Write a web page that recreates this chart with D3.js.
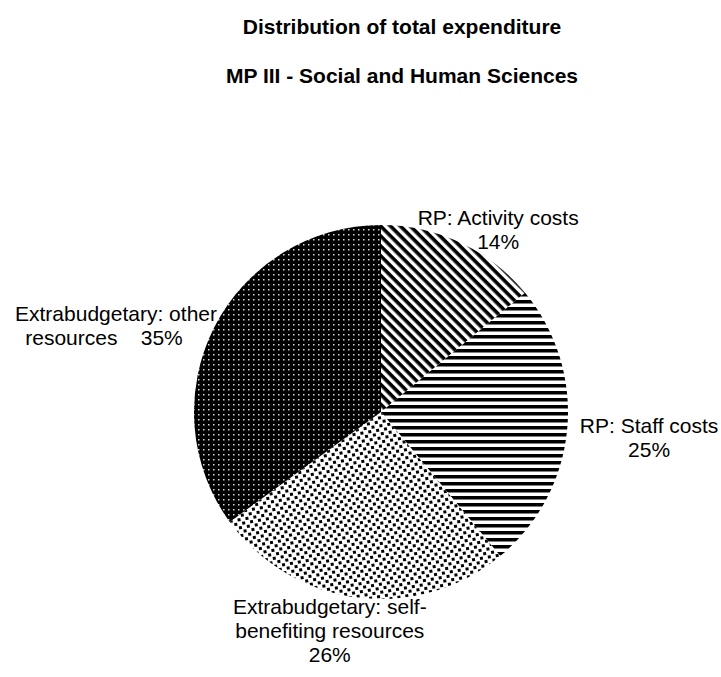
<!DOCTYPE html>
<html>
<head>
<meta charset="utf-8">
<script src="https://cdn.jsdelivr.net/npm/d3@7/dist/d3.min.js"></script>
<style>
  body { margin: 0; background: #fff; }
  text { font-family: "Liberation Sans", Arial, sans-serif; fill: #000; }
</style>
</head>
<body>
<div id="chart"></div>
<script>
// chart data
var titles = ["Distribution of total expenditure", "MP III - Social and Human Sciences"];
var categories = ["RP: Activity costs", "RP: Staff costs", "Extrabudgetary: self-benefiting resources", "Extrabudgetary: other resources"];
var values = [14, 25, 26, 35];
// how each label wraps (percentage gets added from values)
var labelLines = [["RP: Activity costs"], ["RP: Staff costs"], ["Extrabudgetary: self-", "benefiting resources"], ["Extrabudgetary: other", "resources"]];

var width = 721, height = 677;
var cx = 381, cy = 412, radius = 187;
var fontSize = 21, lineH = 24;

// label placement, relative to radius, plus angle nudge in degrees
var labelRadius = [1.16, 1.44, 1.2, 1.49];
var labelNudge = [7.5, 0, 6, -9];

var svg = d3.select("#chart").append("svg")
    .attr("width", width)
    .attr("height", height);

var defs = svg.append("defs");

// wide diagonal stripes
var p0 = defs.append("pattern").attr("id", "pat0")
    .attr("patternUnits", "userSpaceOnUse")
    .attr("width", 7).attr("height", 7)
    .attr("patternTransform", "rotate(45)");
p0.append("rect").attr("width", 7).attr("height", 7).attr("fill", "#fff");
p0.append("rect").attr("width", 7).attr("height", 3.6).attr("fill", "#000");

// horizontal stripes
var p1 = defs.append("pattern").attr("id", "pat1")
    .attr("patternUnits", "userSpaceOnUse")
    .attr("width", 7).attr("height", 7);
p1.append("rect").attr("width", 7).attr("height", 7).attr("fill", "#fff");
p1.append("rect").attr("width", 7).attr("height", 3.5).attr("fill", "#000");

// black squares on white
var p2 = defs.append("pattern").attr("id", "pat2")
    .attr("patternUnits", "userSpaceOnUse")
    .attr("width", 8).attr("height", 8)
    .attr("patternTransform", "rotate(-10)");
p2.append("rect").attr("width", 8).attr("height", 8).attr("fill", "#fff");
p2.append("rect").attr("width", 3).attr("height", 3).attr("fill", "#000");
p2.append("rect").attr("x", 4).attr("y", 4).attr("width", 3).attr("height", 3).attr("fill", "#000");

// fine white dots on black
var p3 = defs.append("pattern").attr("id", "pat3")
    .attr("patternUnits", "userSpaceOnUse")
    .attr("width", 5).attr("height", 5);
p3.append("rect").attr("width", 5).attr("height", 5).attr("fill", "#000");
p3.append("rect").attr("x", 2).attr("y", 2).attr("width", 1.5).attr("height", 1.5).attr("fill", "#d8d8d8");

// titles (blank line between them, like the original)
svg.selectAll(".title")
    .data(titles)
    .enter()
    .append("text")
    .attr("class", "title")
    .attr("x", 402)
    .attr("y", function(d, i) { return i == 0 ? 34 : 83; })
    .attr("text-anchor", "middle")
    .style("font-weight", "bold")
    .style("font-size", fontSize + "px")
    .text(function(d) { return d; });

var pie = d3.pie().sort(null).value(function(d) { return d; });
var arcs = pie(values);

var arc = d3.arc().innerRadius(0).outerRadius(radius);

var g = svg.append("g").attr("transform", "translate(" + cx + "," + cy + ")");

g.selectAll("path")
    .data(arcs)
    .enter()
    .append("path")
    .attr("d", arc)
    .attr("fill", function(d, i) { return "url(#pat" + i + ")"; })
    .attr("stroke", "none");

// labels
var labels = g.selectAll(".lbl")
    .data(arcs)
    .enter()
    .append("text")
    .attr("class", "lbl")
    .attr("text-anchor", "middle")
    .style("font-size", fontSize + "px")
    .style("white-space", "pre")
    .each(function(d, i) {
        var a = (d.startAngle + d.endAngle) / 2 + labelNudge[i] * Math.PI / 180;
        var r = radius * labelRadius[i];
        var x = Math.sin(a) * r, y = -Math.cos(a) * r;
        var lines = labelLines[i].slice();
        var pct = values[i] + "%";
        if (i == 3) lines[lines.length - 1] = lines[lines.length - 1] + "    " + pct;
        else lines.push(pct);
        var top = y - (lines.length - 1) * lineH / 2;
        var t = d3.select(this);
        lines.forEach(function(s, k) {
            t.append("tspan")
                .attr("x", (i == 3 && k == 1) ? x - 12 : x)
                .attr("y", top + k * lineH)
                .attr("dy", "0.35em")
                .text(s);
        });
    });
</script>
</body>
</html>
